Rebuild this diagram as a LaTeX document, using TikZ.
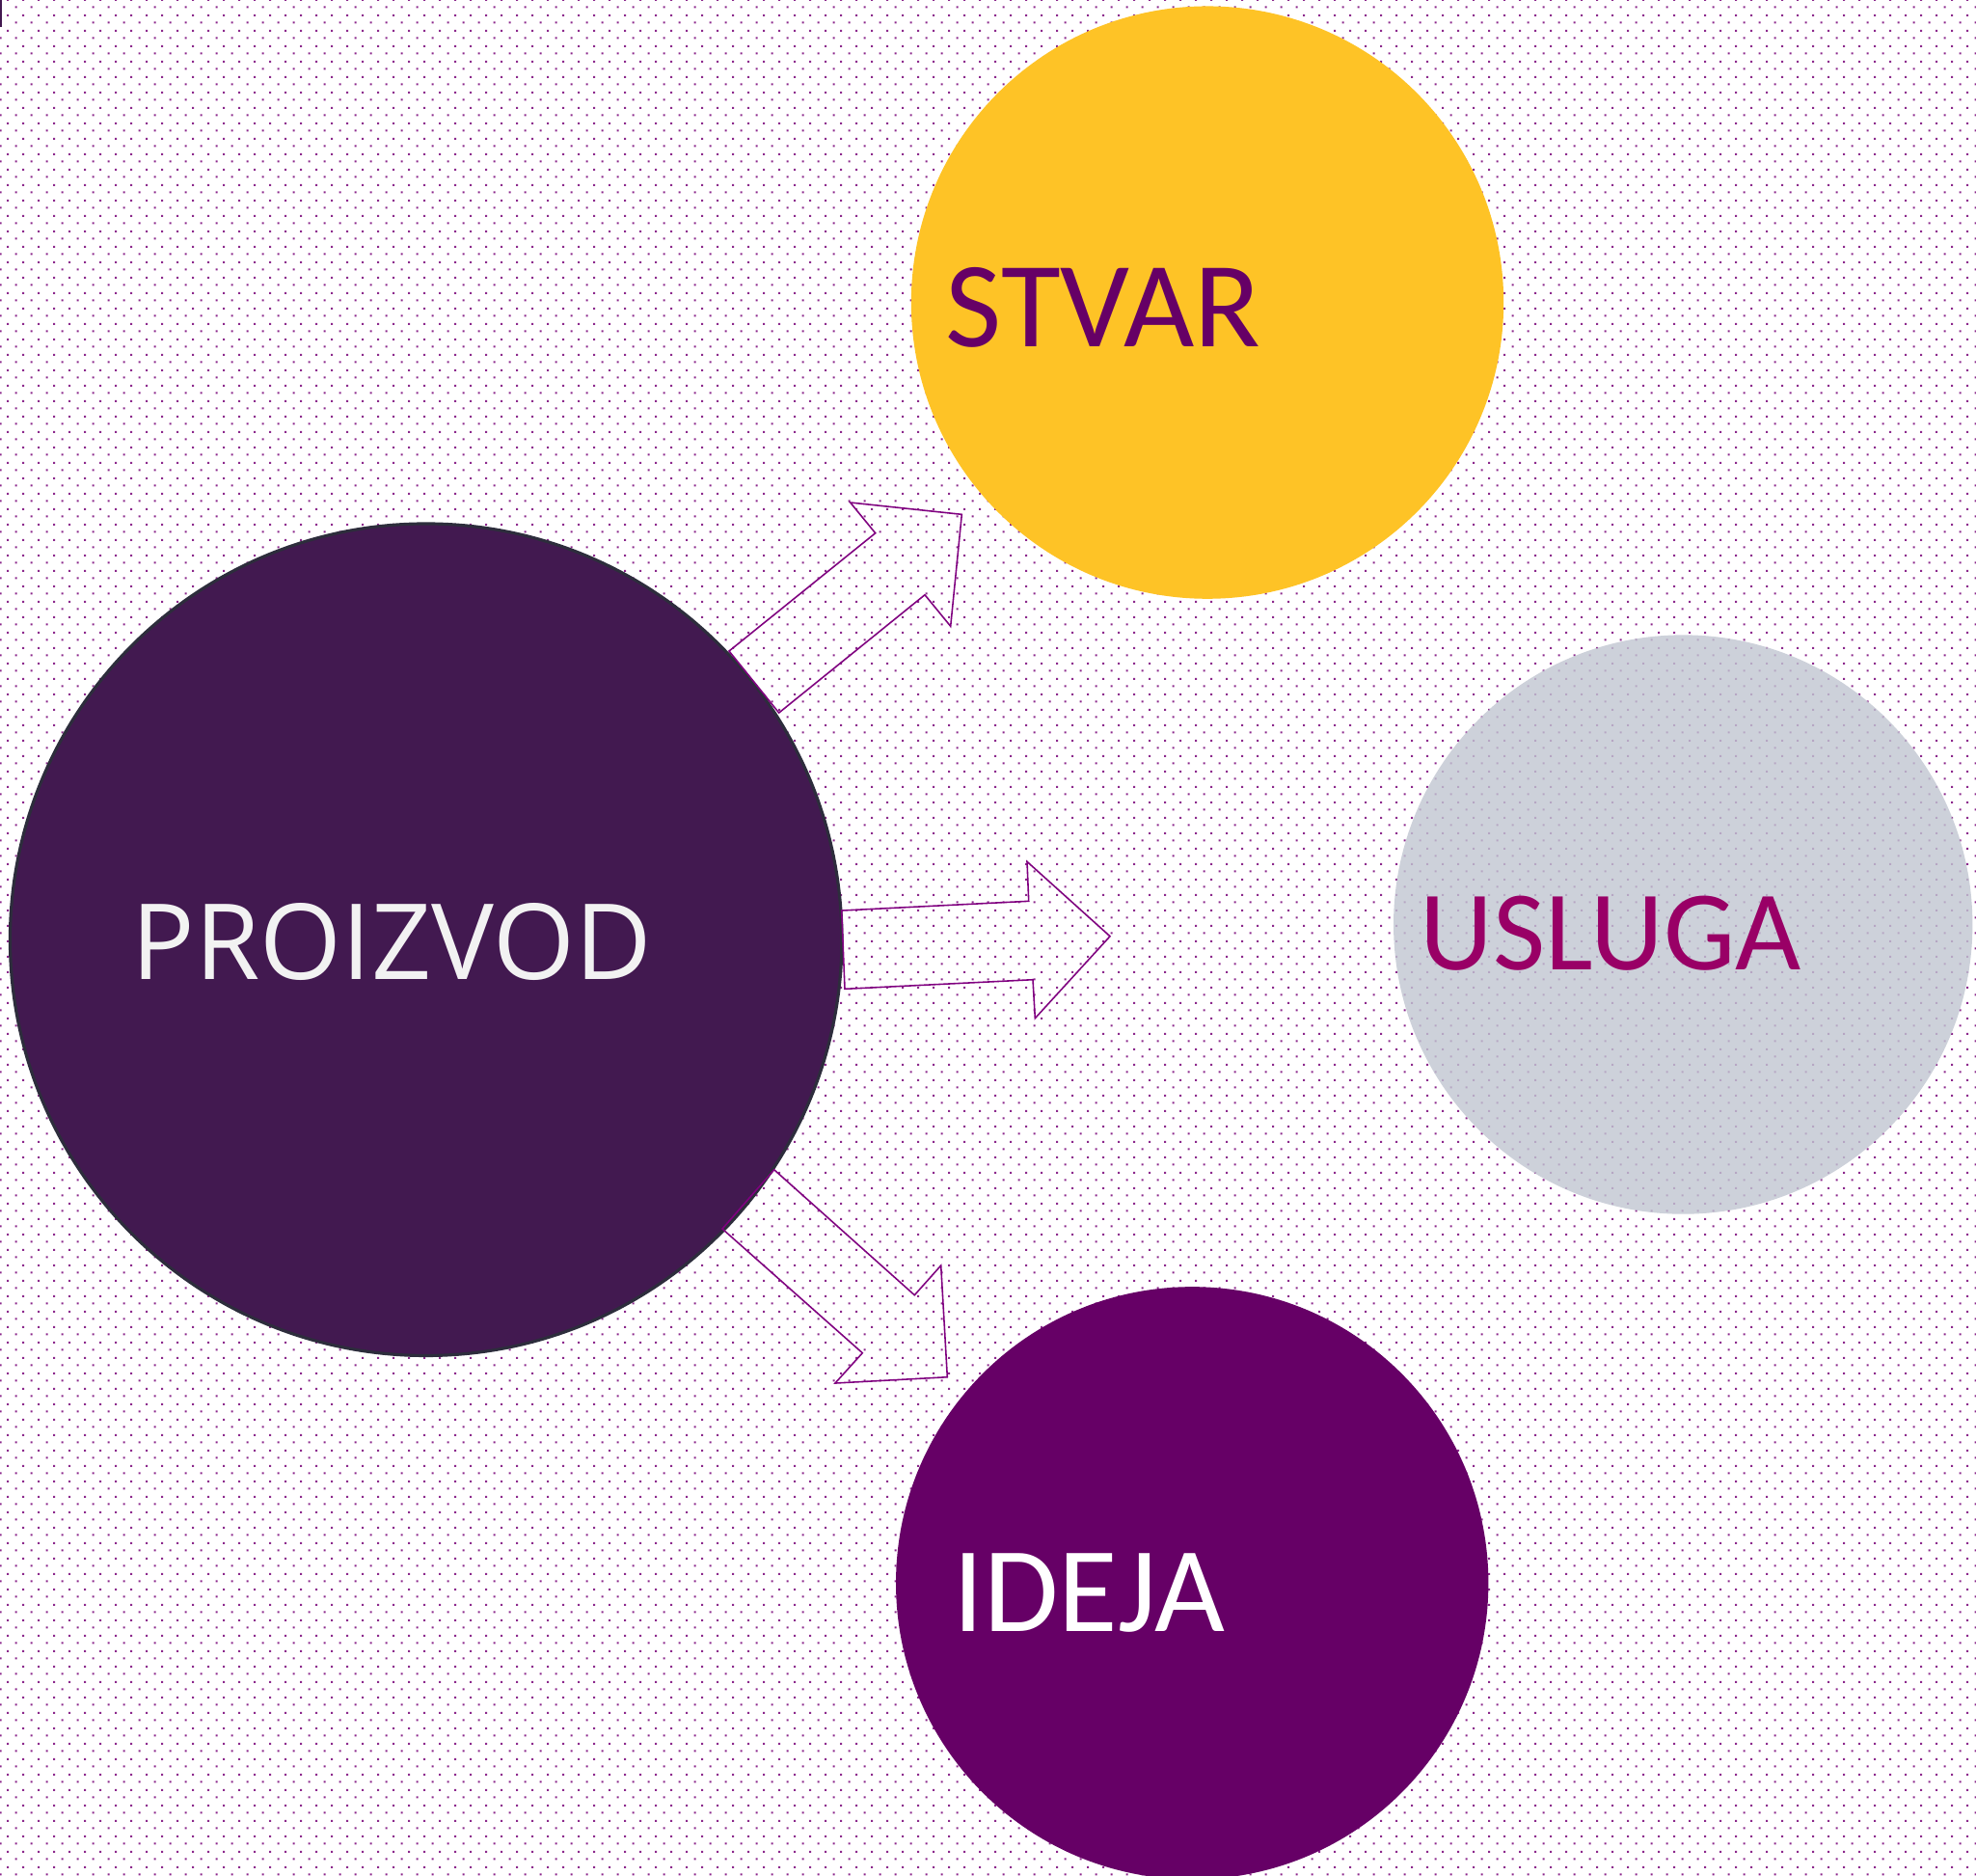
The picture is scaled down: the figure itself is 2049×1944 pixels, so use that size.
\documentclass[tikz,border=0pt]{standalone}
\usepackage{fontspec}
\setmainfont{Carlito}
\newfontfamily\proizfont{Open Sans}
\usetikzlibrary{patterns}

% staggered dot grid used as the page texture (16 px tile, 2 px dots)
\pgfdeclarepatternformonly{bgdots}{\pgfpointorigin}{\pgfpoint{4.5524pt}{4.5524pt}}{\pgfpoint{4.5524pt}{4.5524pt}}{%
  \pgfpathrectangle{\pgfpoint{0.2pt}{0.2pt}}{\pgfpoint{0.569pt}{0.569pt}}%
  \pgfpathrectangle{\pgfpoint{2.4762pt}{2.4762pt}}{\pgfpoint{0.569pt}{0.569pt}}%
  \pgfusepath{fill}%
}

\definecolor{dotc}{RGB}{140,40,140}
\definecolor{proizc}{RGB}{66,25,80}
\definecolor{rimc}{RGB}{45,45,60}
\definecolor{stvarc}{RGB}{254,195,38}
\definecolor{uslugac}{RGB}{193,198,209}
\definecolor{idejac}{RGB}{102,0,102}
\definecolor{arrowc}{RGB}{128,0,128}
\definecolor{uslugatext}{RGB}{153,0,102}

\tikzset{
  disc/.style={circle, inner sep=0pt, draw=none},
  blockarrow/.style={draw=arrowc, line width=0.45pt, line join=miter},
  lbl/.style={inner sep=0pt, anchor=base west},
}

\begin{document}
\begin{tikzpicture}[x=0.01cm, y=-0.01cm]
  \useasboundingbox (0,0) rectangle (2049,1944);
  \fill[white] (0,0) rectangle (2049,1944);
  \fill[pattern=bgdots, pattern color=dotc] (0,0) rectangle (2049,1944);
  \draw[proizc, line width=0.6pt] (0.5,0) -- (0.5,28);

  % circles
  \node[disc, fill=proizc, draw=rimc, line width=0.9pt, minimum size=8.62cm] (proizvod) at (441.7,974.2) {};
  \node[disc, fill=stvarc, minimum size=6.14cm] (stvar) at (1252,313.6) {};
  \node[disc, fill=uslugac, fill opacity=0.8, minimum size=6.0cm] (usluga) at (1745.2,958.5) {};
  \node[disc, fill=idejac, minimum size=6.14cm] (ideja) at (1236.2,1641.3) {};

  % labels
  \node[lbl, font=\proizfont\fontsize{31}{31}\selectfont, text={rgb,255:red,242;green,242;blue,242}] (tproizvod) at (136,1015) {PROIZVOD};
  \node[lbl, font=\fontsize{36}{36}\selectfont, text=idejac] (tstvar) at (980,359) {STVAR};
  \node[lbl, font=\fontsize{33.5}{33.5}\selectfont, text=uslugatext] (tusluga) at (1472,1005) {USLUGA};
  \node[lbl, font=\fontsize{35.8}{35.8}\selectfont, text=white] (tideja) at (988,1691) {IDEJA};

  % block arrows leaving the main circle
  \draw[blockarrow] (756,675) -- (907.7,552.7) -- (881.7,521) -- (997.3,533.3)
        -- (985.7,649.3) -- (959,616.7) -- (807.7,739) -- cycle;
  \draw[blockarrow] (872.7,944) -- (1066.7,934.3) -- (1065,893.3) -- (1151,970.7)
        -- (1073.3,1055.7) -- (1071,1015.7) -- (876,1025.3) -- cycle;
  \draw[blockarrow] (802.7,1212.7) -- (948.3,1342.7) -- (975.7,1312) -- (982.3,1427.7)
        -- (866,1434) -- (894.3,1402.7) -- (749,1274) -- cycle;
\end{tikzpicture}
\end{document}
